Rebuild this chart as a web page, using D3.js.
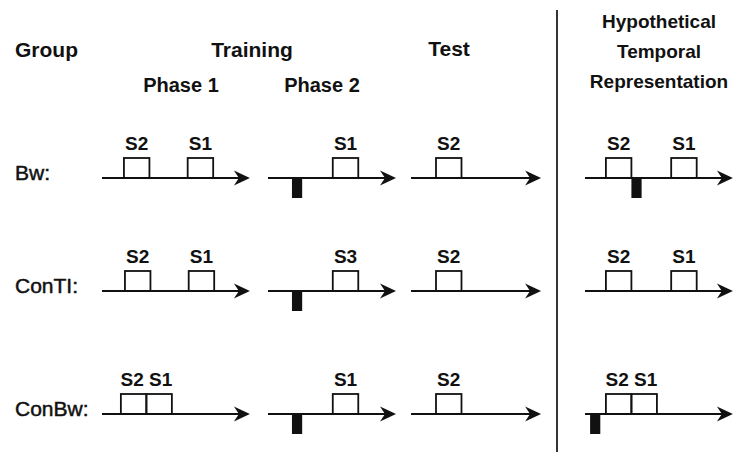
<!DOCTYPE html>
<html lang="en">
<head>
<meta charset="UTF-8">
<title>Backward conditioning design</title>
<script src="https://d3js.org/d3.v7.min.js"></script>
<style>
    html, body { margin: 0; padding: 0; background: #fff; }
    text { font-family: Arial, 'Liberation Sans', sans-serif; fill: #111; }
</style>
</head>
<body>
<div id="viz"></div>
<script>

// groups and panel headers
var groups = ['Bw', 'ConTI', 'ConBw'];
var groupLabels = ['Bw:', 'ConTI:', 'ConBw:'];
var panels = ['phase1', 'phase2', 'test', 'hyp'];
var panelLength = [29, 25.1, 25.5, 29];   // seconds shown on each time line

// stimulus boxes: onset in seconds, box lasts 5 s
var phase1Events = [
    [{label: 'S2', t: 4.3}, {label: 'S1', t: 16.8}],
    [{label: 'S2', t: 4.5}, {label: 'S1', t: 17}],
    [{label: 'S2', t: 3.7}, {label: 'S1', t: 8.7}]
];
var phase2Events = [
    [{label: 'S1', t: 12.7}],
    [{label: 'S3', t: 12.7}],
    [{label: 'S1', t: 12.7}]
];
var testEvents = [
    [{label: 'S2', t: 4.9}],
    [{label: 'S2', t: 4.9}],
    [{label: 'S2', t: 4.9}]
];
var hypEvents = [
    [{label: 'S2', t: 4.1}, {label: 'S1', t: 16.9}],
    [{label: 'S2', t: 4.1}, {label: 'S1', t: 16.9}],
    [{label: 'S2', t: 4.1}, {label: 'S1', t: 9.1}]
];
var boxDuration = 5;

// US (black mark): onset in seconds, lasts 2 s; null = no US
var phase2US = [4.7, 4.7, 4.7];
var hypUS = [9.1, null, 1.0];
var usDuration = 2;

var width = 736, height = 452;

var svg = d3.select('#viz')
    .append('svg')
    .attr('width', width)
    .attr('height', height);

// layout
var rowY = d3.scaleOrdinal().domain(groups).range([178, 291, 414]);
var panelX = d3.scaleOrdinal().domain(panels).range([102, 268, 411, 585]);
var sec = d3.scaleLinear().domain([0, 1]).range([0, 5.1]);
var boxH = 20, usH = 20;

// headers
svg.append('text').attr('x', 15).attr('y', 57)
    .style('font-size', '21px').style('font-weight', 'bold').text('Group');
svg.append('text').attr('x', 252).attr('y', 57).attr('text-anchor', 'middle')
    .style('font-size', '21px').style('font-weight', 'bold').text('Training');
svg.append('text').attr('x', 449).attr('y', 56).attr('text-anchor', 'middle')
    .style('font-size', '21px').style('font-weight', 'bold').text('Test');
svg.append('text').attr('x', 181).attr('y', 92).attr('text-anchor', 'middle')
    .style('font-size', '20px').style('font-weight', 'bold').text('Phase 1');
svg.append('text').attr('x', 322).attr('y', 92).attr('text-anchor', 'middle')
    .style('font-size', '20px').style('font-weight', 'bold').text('Phase 2');

var hypLines = ['Hypothetical', 'Temporal', 'Representation'];
svg.selectAll('.hyp-title')
    .data(hypLines)
    .enter()
    .append('text')
    .attr('class', 'hyp-title')
    .attr('x', 659)
    .attr('y', function(d, i) { return 28 + i * 30; })
    .attr('text-anchor', 'middle')
    .style('font-size', '19px')
    .style('font-weight', 'bold')
    .text(function(d) { return d; });

// divider
svg.append('line')
    .attr('x1', 557).attr('x2', 557)
    .attr('y1', 10).attr('y2', height)
    .attr('stroke', '#333')
    .attr('stroke-width', 2);

// group labels
svg.selectAll('.group-label')
    .data(groups)
    .enter()
    .append('text')
    .attr('class', 'group-label')
    .attr('x', 15)
    .attr('y', function(d) { return rowY(d) + 2; })
    .style('font-size', '21px')
    .style('stroke', '#111')
    .style('stroke-width', 0.5)
    .text(function(d, i) { return groupLabels[i]; });

var eventsByPanel = [phase1Events, phase2Events, testEvents, hypEvents];
var usByPanel = [null, phase2US, null, hypUS];

function drawTimeline(g, x0, y, len) {
    var x1 = x0 + sec(len);
    g.append('line')
        .attr('x1', x0).attr('x2', x1 - 6)
        .attr('y1', y).attr('y2', y)
        .attr('stroke', '#111')
        .attr('stroke-width', 2);
    g.append('path')
        .attr('d', 'M' + x1 + ',' + y +
            'L' + (x1 - 16) + ',' + (y - 7.5) +
            'L' + (x1 - 11) + ',' + y +
            'L' + (x1 - 16) + ',' + (y + 7.5) + 'Z')
        .attr('fill', '#111');
}

// boxes that touch share one label, e.g. "S2 S1"
function labelGroups(evs) {
    var out = [];
    evs.forEach(function(d) {
        var last = out[out.length - 1];
        if (last && Math.abs(last.end - d.t) < 0.01) {
            last.text += ' ' + d.label;
            last.end = d.t + boxDuration;
        } else {
            out.push({text: d.label, start: d.t, end: d.t + boxDuration});
        }
    });
    return out;
}

groups.forEach(function(grp, r) {
    var y = rowY(grp);
    panels.forEach(function(p, c) {
        var x0 = panelX(p);
        var g = svg.append('g').attr('class', 'panel ' + p);

        drawTimeline(g, x0, y, panelLength[c]);

        var evs = eventsByPanel[c][r];
        g.selectAll('.box')
            .data(evs)
            .enter()
            .append('rect')
            .attr('class', 'box')
            .attr('x', function(d) { return x0 + sec(d.t); })
            .attr('y', y - boxH)
            .attr('width', sec(boxDuration))
            .attr('height', boxH)
            .attr('fill', 'none')
            .attr('stroke', '#111')
            .attr('stroke-width', 1.8);

        g.selectAll('.slabel')
            .data(labelGroups(evs))
            .enter()
            .append('text')
            .attr('class', 'slabel')
            .attr('x', function(d) { return x0 + sec((d.start + d.end) / 2); })
            .attr('y', y - boxH - 8)
            .attr('text-anchor', 'middle')
            .style('font-size', '19px')
            .style('font-weight', 'bold')
            .text(function(d) { return d.text; });

        var us = usByPanel[c] ? usByPanel[c][r] : null;
        if (us !== null) {
            g.append('rect')
                .attr('x', x0 + sec(us))
                .attr('y', y)
                .attr('width', sec(usDuration))
                .attr('height', usH)
                .attr('fill', '#111');
        }
    });
});

</script>
</body>
</html>
